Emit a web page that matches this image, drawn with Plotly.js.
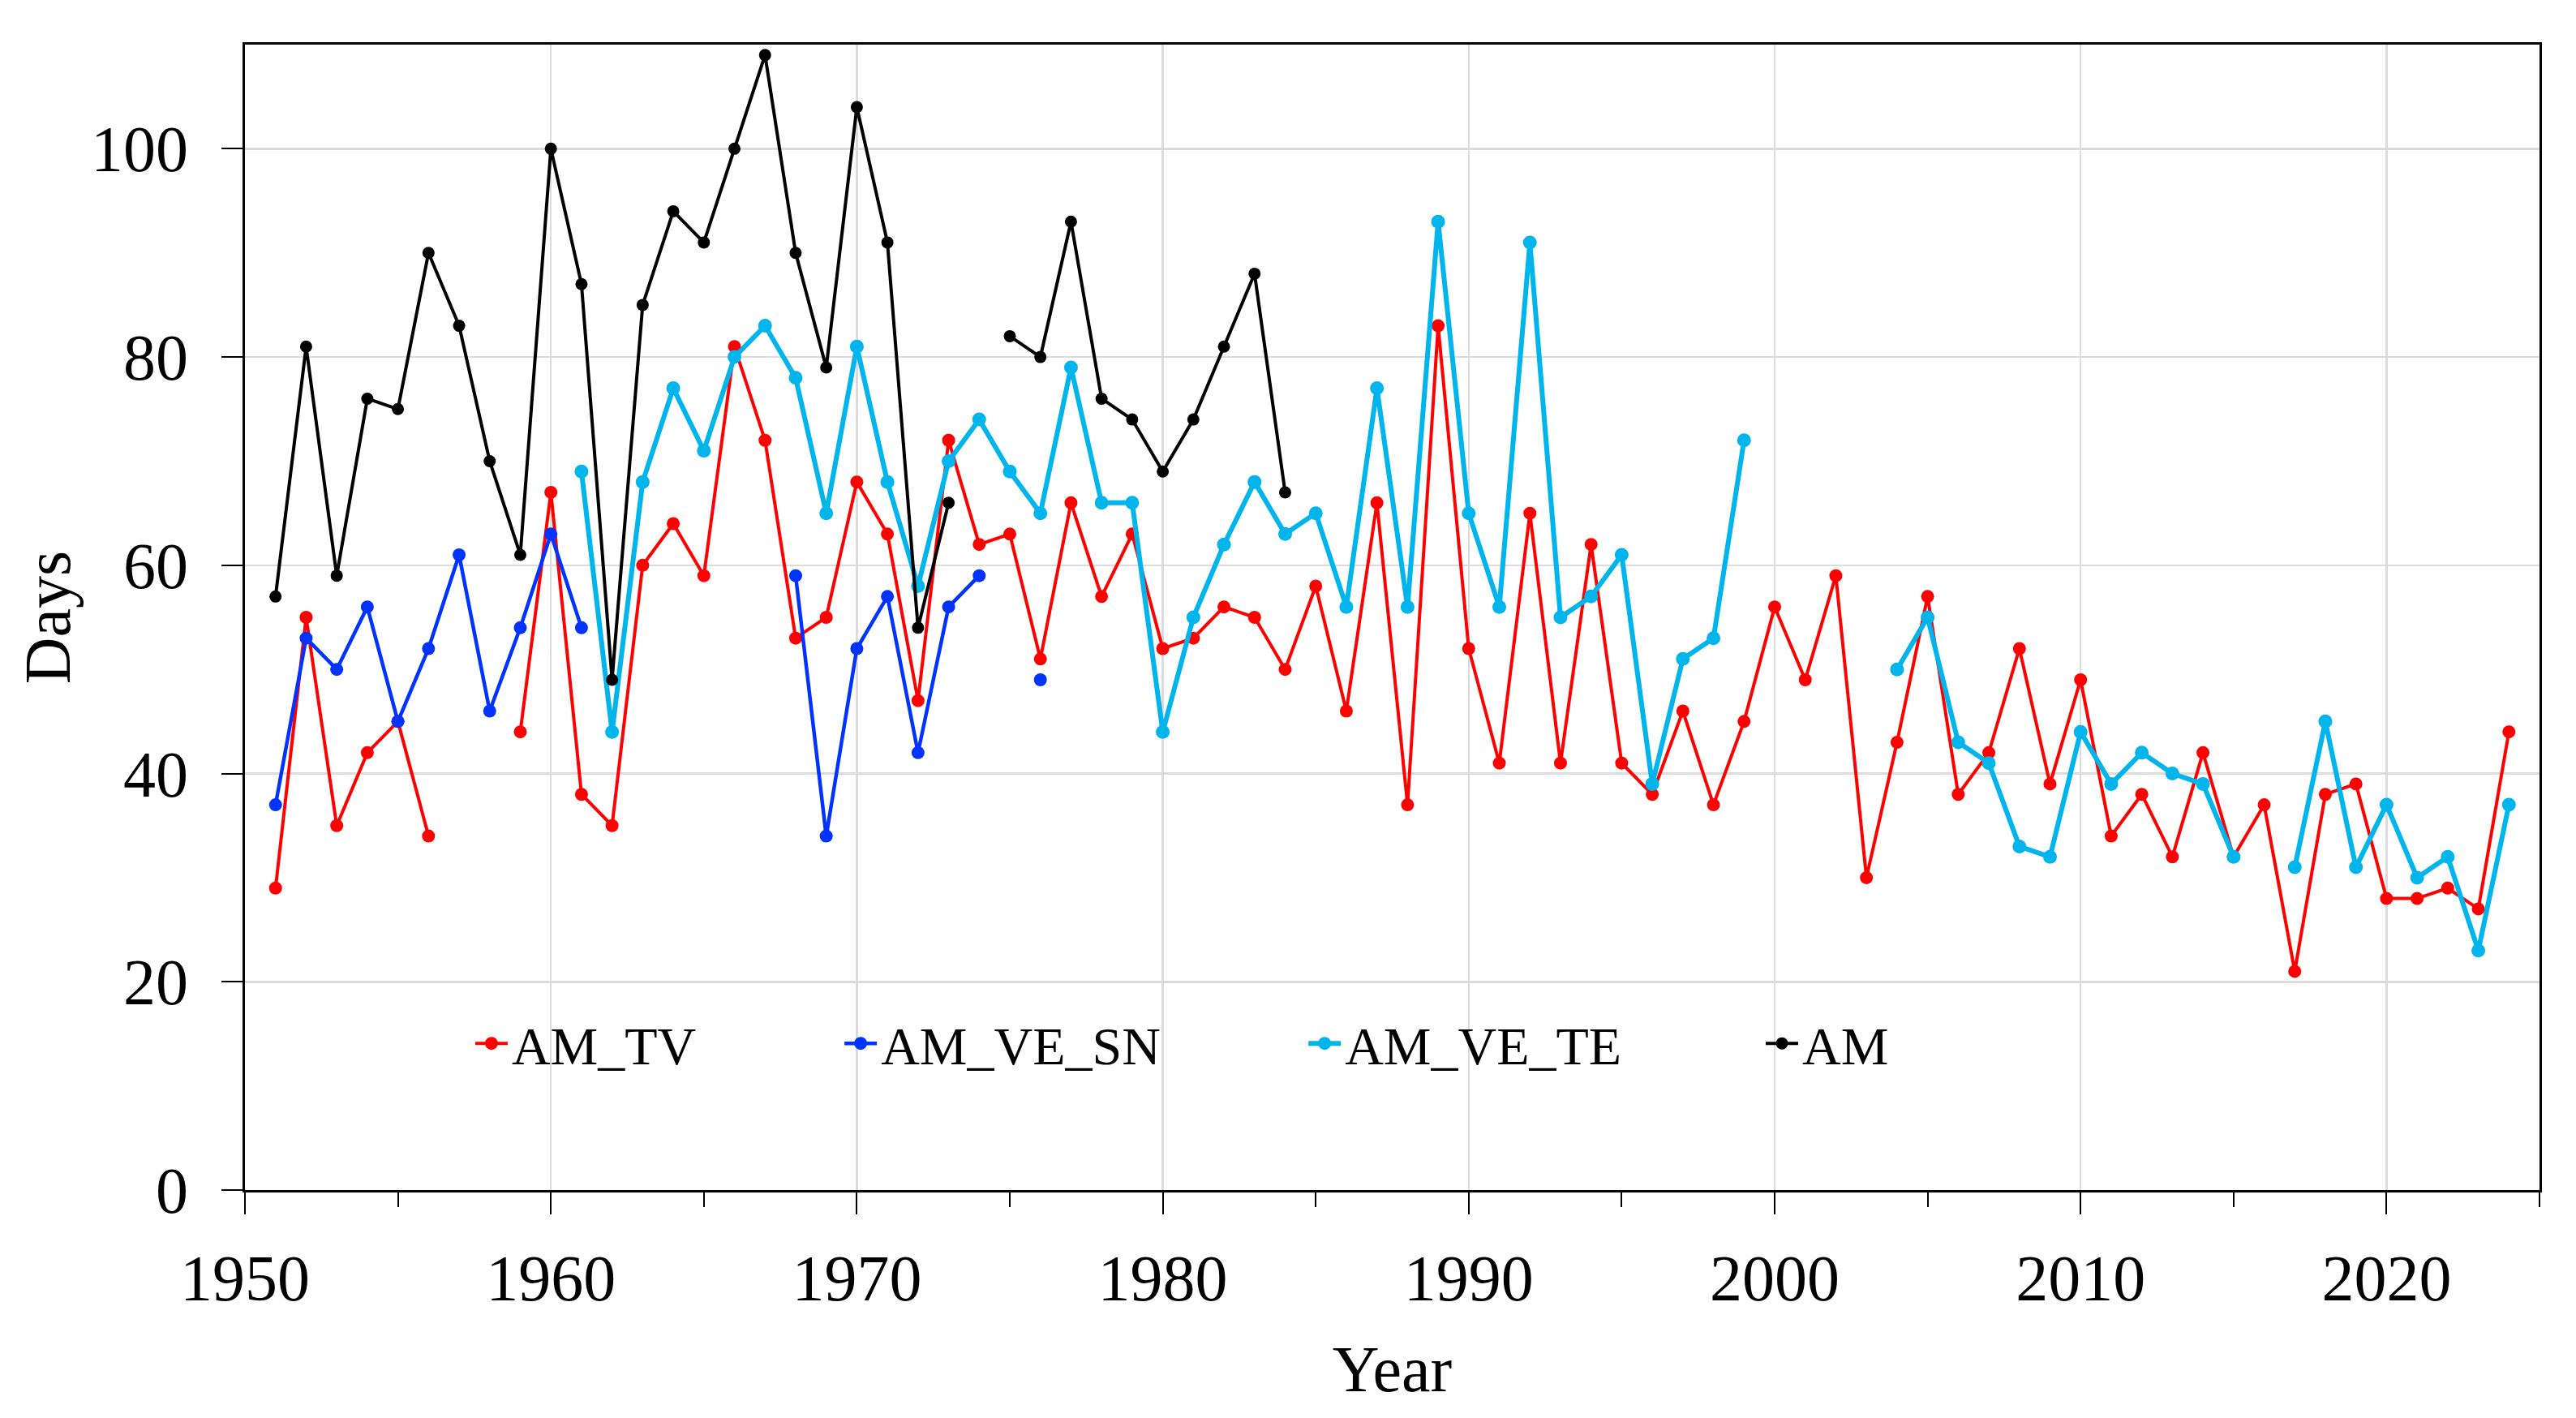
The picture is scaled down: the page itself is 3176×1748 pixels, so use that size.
<!DOCTYPE html>
<html lang="en">
  <head>
    <meta charset="UTF-8" />
    <title>Days per year</title>
    <script src="https://cdn.plot.ly/plotly-3.0.1.min.js"></script>
    <style>
      body { margin: 0; background: #fff; }
      #myDiv { width: 3176px; height: 1748px; }
    </style>
  </head>
  <body>
    <div id="myDiv"></div>
    <script>
      var years = [
        1951, 1952, 1953, 1954, 1955, 1956, 1957, 1958, 1959, 1960,
        1961, 1962, 1963, 1964, 1965, 1966, 1967, 1968, 1969, 1970,
        1971, 1972, 1973, 1974, 1975, 1976, 1977, 1978, 1979, 1980,
        1981, 1982, 1983, 1984, 1985, 1986, 1987, 1988, 1989, 1990,
        1991, 1992, 1993, 1994, 1995, 1996, 1997, 1998, 1999, 2000,
        2001, 2002, 2003, 2004, 2005, 2006, 2007, 2008, 2009, 2010,
        2011, 2012, 2013, 2014, 2015, 2016, 2017, 2018, 2019, 2020,
        2021, 2022, 2023, 2024
      ];

      // null = no value that year (line is broken there)
      var amTV = [
        29, 55, 35, 42, 45, 34, null, null, 44, 67,
        38, 35, 60, 64, 59, 81, 72, 53, 55, 68,
        63, 47, 72, 62, 63, 51, 66, 57, 63, 52,
        53, 56, 55, 50, 58, 46, 66, 37, 83, 52,
        41, 65, 41, 62, 41, 38, 46, 37, 45, 56,
        49, 59, 30, 43, 57, 38, 42, 52, 39, 49,
        34, 38, 32, 42, 32, 37, 21, 38, 39, 28,
        28, 29, 27, 44
      ];
      var amVeSN = [
        37, 53, 50, 56, 45, 52, 61, 46, 54, 63,
        54, null, null, null, null, null, null, 59, 34, 52,
        57, 42, 56, 59, null, 49, null, null, null, null,
        null, null, null, null, null, null, null, null, null, null,
        null, null, null, null, null, null, null, null, null, null,
        null, null, null, null, null, null, null, null, null, null,
        null, null, null, null, null, null, null, null, null, null,
        null, null, null, null
      ];
      var amVeTE = [
        null, null, null, null, null, null, null, null, null, null,
        69, 44, 68, 77, 71, 80, 83, 78, 65, 81,
        68, 58, 70, 74, 69, 65, 79, 66, 66, 44,
        55, 62, 68, 63, 65, 56, 77, 56, 93, 65,
        56, 91, 55, 57, 61, 39, 51, 53, 72, null,
        null, null, null, 50, 55, 43, 41, 33, 32, 44,
        39, 42, 40, 39, 32, null, 31, 45, 31, 37,
        30, 32, 23, 37
      ];
      var am = [
        57, 81, 59, 76, 75, 90, 83, 70, 61, 100,
        87, 49, 85, 94, 91, 100, 109, 90, 79, 104,
        91, 54, 66, null, 82, 80, 93, 76, 74, 69,
        74, 81, 88, 67, null, null, null, null, null, null,
        null, null, null, null, null, null, null, null, null, null,
        null, null, null, null, null, null, null, null, null, null,
        null, null, null, null, null, null, null, null, null, null,
        null, null, null, null
      ];

      var serif = "Liberation Serif, Times New Roman, serif";

      function series(name, y, color, lw, ms, legendId) {
        return {
          x: years,
          y: y,
          name: name,
          type: "scatter",
          mode: "lines+markers",
          connectgaps: false,
          line: { color: color, width: lw },
          marker: { color: color, size: ms },
          legend: legendId,
        };
      }

      var data = [
        series("AM_TV", amTV, "#ff0000", 4, 16, "legend"),
        series("AM_VE_SN", amVeSN, "#0033ff", 4.5, 16, "legend2"),
        series("AM_VE_TE", amVeTE, "#00b4ec", 6, 17, "legend3"),
        series("AM", am, "#000000", 4, 15, "legend4"),
      ];

      // one legend per trace so each entry sits where it does in the original
      function leg(x) {
        return {
          x: x,
          y: 0.128,
          xanchor: "left",
          yanchor: "middle",
          orientation: "h",
          itemwidth: 40,
          bgcolor: "rgba(0,0,0,0)",
          font: { family: serif, size: 66, color: "#000" },
        };
      }

      var layout = {
        width: 3176,
        height: 1748,
        margin: { l: 302, r: 45, t: 55, b: 281 },
        paper_bgcolor: "#ffffff",
        plot_bgcolor: "#ffffff",
        font: { family: serif, color: "#000" },
        showlegend: true,
        legend: leg(0.0986),
        legend2: leg(0.2595),
        legend3: leg(0.4617),
        legend4: leg(0.661),
        xaxis: {
          range: [1950, 2025],
          tick0: 1950,
          dtick: 10,
          ticks: "outside",
          ticklen: 27,
          tickwidth: 2,
          tickcolor: "#000",
          ticklabelstandoff: 10,
          tickfont: { family: serif, size: 80, color: "#000" },
          minor: { dtick: 5, ticks: "outside", ticklen: 18, tickwidth: 2, tickcolor: "#000", showgrid: false },
          showgrid: true,
          gridcolor: "#dcdcdc",
          gridwidth: 2.5,
          zeroline: false,
          showline: true,
          linecolor: "#000",
          linewidth: 3,
          mirror: true,
          title: { text: "Year", standoff: 40, font: { family: serif, size: 80, color: "#000" } },
        },
        yaxis: {
          range: [0, 110],
          tick0: 0,
          dtick: 20,
          ticks: "outside",
          ticklen: 26,
          tickwidth: 2,
          tickcolor: "#000",
          ticklabelstandoff: 25,
          tickfont: { family: serif, size: 80, color: "#000" },
          showgrid: true,
          gridcolor: "#dcdcdc",
          gridwidth: 2.5,
          zeroline: false,
          showline: true,
          linecolor: "#000",
          linewidth: 3,
          mirror: true,
          title: { text: "Days", standoff: 0, font: { family: serif, size: 80, color: "#000" } },
        },
      };

      Plotly.newPlot("myDiv", data, layout, { displayModeBar: false, staticPlot: true });
    </script>
  </body>
</html>
